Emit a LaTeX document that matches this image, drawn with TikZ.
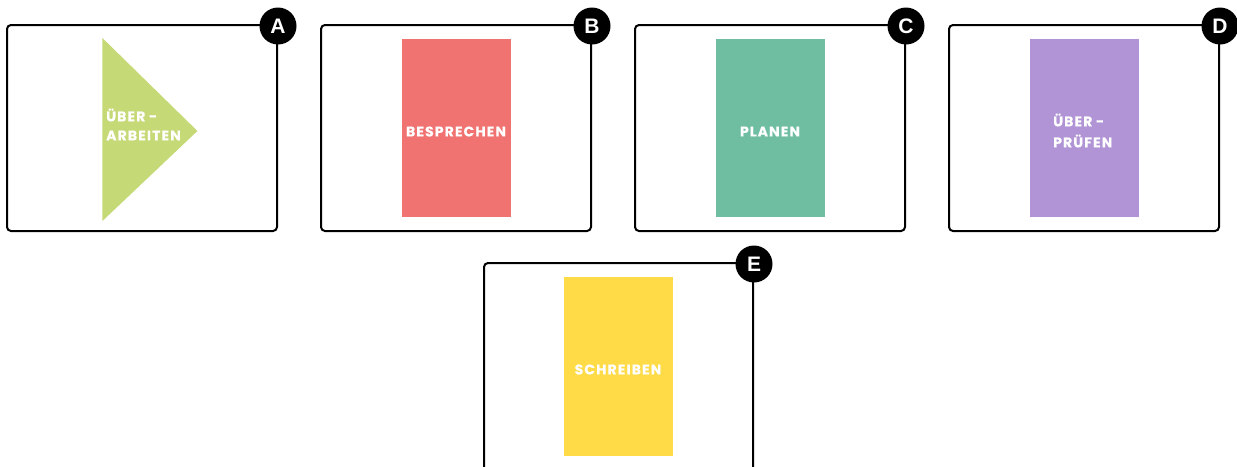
\documentclass[tikz,border=0pt]{standalone}
\usepackage{fontspec}
\setmainfont{Liberation Sans}
\newfontfamily\lblfont[LetterSpace=8,FakeBold=0.4]{Poppins Bold}
\tikzset{
  x=1pt,y=-1pt,
  framebox/.style={draw=black,line width=2pt,rounded corners=4pt,fill=white,minimum width=270pt,minimum height=206pt,inner sep=0pt,outer sep=0pt,anchor=north west},
  badge/.style={circle,fill=black,text=white,minimum size=37pt,inner sep=0pt,font=\bfseries\fontsize{21}{21}\selectfont},
  panel/.style={minimum width=109pt,minimum height=178pt,inner sep=0pt,outer sep=0pt,anchor=north west},
  lbl/.style={text=white,font=\lblfont\fontsize{14}{20}\selectfont,inner sep=0pt},
}
\definecolor{cgreen}{HTML}{C6D977}
\definecolor{cred}{HTML}{F07271}
\definecolor{cteal}{HTML}{6FBEA2}
\definecolor{cpurple}{HTML}{B094D6}
\definecolor{cyellow}{HTML}{FEDB47}
\begin{document}
\begin{tikzpicture}
\useasboundingbox (0,0) rectangle (1237,466);
\fill[white] (0,0) rectangle (1237,466);
\node[framebox] (boxA) at (7,25) {};
\node[framebox] (boxB) at (321,25) {};
\node[framebox] (boxC) at (635,25) {};
\node[framebox] (boxD) at (949,25) {};
\node[framebox,minimum width=269pt,minimum height=230pt] (boxE) at (484,263) {};
\coordinate (t1) at (102.4,38);
\coordinate (t2) at (197.4,131);
\coordinate (t3) at (102.4,221);
\fill[cgreen] (t1) -- (t2) -- (t3) -- cycle;
\node[panel,fill=cred] (panB) at (402,39) {};
\node[panel,fill=cteal] (panC) at (716,39) {};
\node[panel,fill=cpurple] (panD) at (1030,39) {};
\node[panel,fill=cyellow,minimum height=179pt] (panE) at (564,277) {};
\node[lbl,anchor=west] (txtA1) at (106,115) {ÜBER\kern3.5pt-};
\node[lbl,anchor=west] (txtA2) at (106,135.5) {ARBEITEN};
\node[lbl] (txtB) at (456,131.5) {BESPRECHEN};
\node[lbl] (txtC) at (770,131.5) {PLANEN};
\node[lbl,anchor=west] (txtD1) at (1053,120) {ÜBER\kern3.5pt-};
\node[lbl,anchor=west] (txtD2) at (1053,141) {PRÜFEN};
\node[lbl] (txtE) at (618,369.5) {SCHREIBEN};
\node[badge] (bA) at (278,26) {A};
\node[badge] (bB) at (592,26) {B};
\node[badge] (bC) at (906,26) {C};
\node[badge] (bD) at (1220,26) {D};
\node[badge] (bE) at (754,264) {E};
\end{tikzpicture}
\end{document}
